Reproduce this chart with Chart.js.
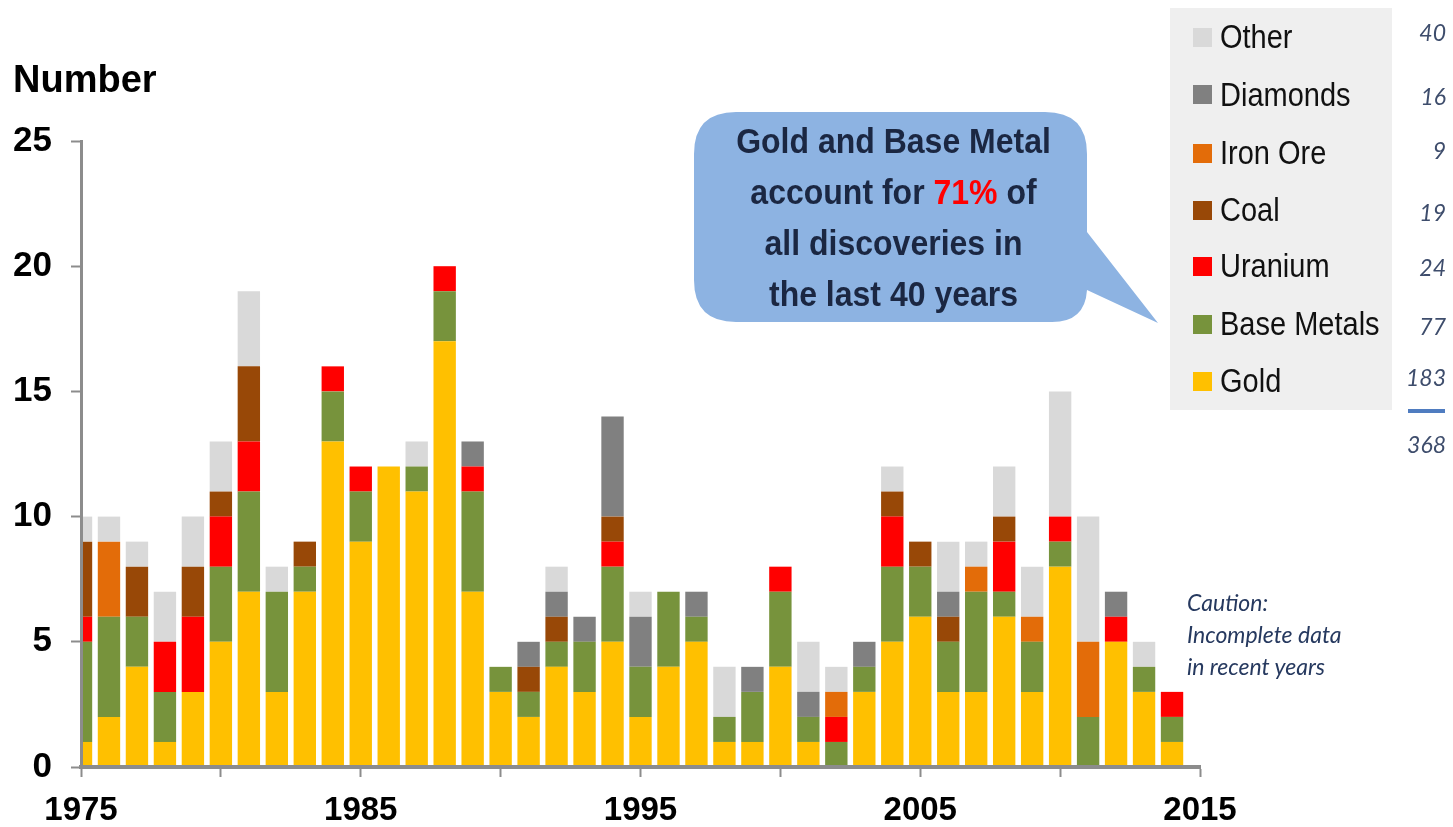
<!DOCTYPE html>
<html>
<head>
<meta charset="utf-8">
<script src="https://cdn.jsdelivr.net/npm/chart.js@4.4.1/dist/chart.umd.min.js"></script>
<style>
  html, body { margin: 0; padding: 0; background: #fff; }
  #wrap { position: relative; width: 1453px; height: 827px; overflow: hidden; font-family: "Liberation Sans", Arial, sans-serif; }
  #c { position: absolute; left: 0; top: 0; }
  .abs { position: absolute; }
  #ytitle { left: 13px; top: 60px; font-size: 38px; line-height: 38px; font-weight: bold; color: #000; white-space: nowrap; }
  #legendBox { left: 1170px; top: 8px; width: 222px; height: 402px; background: #efefef; }
  .lrow { position: absolute; left: 23px; height: 30px; display: flex; align-items: center; white-space: nowrap; }
  .lsq { width: 19px; height: 19px; margin-right: 8px; flex: none; }
  .ltxt { display: inline-block; font-size: 29px; line-height: 30px; color: #111; transform: scaleY(1.12); transform-origin: center; }
  .tot { position: absolute; right: 7px; height: 30px; line-height: 30px; font-family: Lato, "Open Sans", sans-serif; font-style: italic; font-size: 23px; color: #3e4d6c; text-align: right; white-space: nowrap; }
  #totLine { left: 1408px; top: 409px; width: 37px; height: 4px; background: #4f7cc0; }
  #callText { left: 697px; top: 115.6px; width: 393px; text-align: center; font-weight: bold; font-size: 32px; line-height: 45.5px; color: #1b2742; transform: scaleY(1.12); transform-origin: top center; white-space: nowrap; }
  #callText .hl { color: #ff0000; }
  #caution { left: 1187px; top: 585.6px; font-family: Lato, "Open Sans", sans-serif; font-style: italic; font-size: 23px; line-height: 32px; color: #26395f; white-space: nowrap; }
</style>
</head>
<body>
<div id="wrap">
  <canvas id="c" width="1453" height="827"></canvas>
  <div id="ytitle" class="abs">Number</div>
  <svg class="abs" style="left:0;top:0" width="1453" height="827" viewBox="0 0 1453 827">
    <path d="M 736 112 H 1045 Q 1087 112 1087 154 V 232 L 1158 323 L 1087 290 Q 1085 322 1052 322 H 736 Q 694 322 694 280 V 154 Q 694 112 736 112 Z" fill="#8db3e2"/>
  </svg>
  <div id="callText" class="abs">Gold and Base Metal<br>account for <span class="hl">71%</span> of<br>all discoveries in<br>the last 40 years</div>
  <div id="legendBox" class="abs"></div>
  <div id="totals" class="abs" style="left:0;top:0;width:1453px;height:0"></div>
  <div id="totLine" class="abs"></div>
  <div id="caution" class="abs">Caution:<br>Incomplete data<br>in recent years</div>
</div>
<script>
// ---------- DATA ----------
const years = [1975,1976,1977,1978,1979,1980,1981,1982,1983,1984,
               1985,1986,1987,1988,1989,1990,1991,1992,1993,1994,
               1995,1996,1997,1998,1999,2000,2001,2002,2003,2004,
               2005,2006,2007,2008,2009,2010,2011,2012,2013,2014];
const gold       = [1,2,4,1,3,5,7,3,7,13, 9,12,11,17,7,3,2,4,3,5, 2,4,5,1,1,4,1,0,3,5, 6,3,3,6,3,8,0,5,3,1];
const baseMetals = [4,4,2,2,0,3,4,4,1,2, 2,0,1,2,4,1,1,1,2,3, 2,3,1,1,2,3,1,1,1,3, 2,2,4,1,2,1,2,0,1,1];
const uranium    = [1,0,0,2,3,2,2,0,0,1, 1,0,0,1,1,0,0,0,0,1, 0,0,0,0,0,1,0,1,0,2, 0,0,0,2,0,1,0,1,0,1];
const coal       = [3,0,2,0,2,1,3,0,1,0, 0,0,0,0,0,0,1,1,0,1, 0,0,0,0,0,0,0,0,0,1, 1,1,0,1,0,0,0,0,0,0];
const ironOre    = [0,3,0,0,0,0,0,0,0,0, 0,0,0,0,0,0,0,0,0,0, 0,0,0,0,0,0,0,1,0,0, 0,0,1,0,1,0,3,0,0,0];
const diamonds   = [0,0,0,0,0,0,0,0,0,0, 0,0,0,0,1,0,1,1,1,4, 2,0,1,0,1,0,1,0,1,0, 0,1,0,0,0,0,0,1,0,0];
const other      = [1,1,1,2,2,2,3,1,0,0, 0,0,1,0,0,0,0,1,0,0, 1,0,0,2,0,0,2,1,0,1, 0,2,1,2,2,5,5,0,1,0];
const seriesNames = ['Gold','Base Metals','Uranium','Coal','Iron Ore','Diamonds','Other'];
const xTickLabels = ['1975','1985','1995','2005','2015'];
const yTickValues = [0,5,10,15,20,25];

// ---------- STYLE ----------
const seriesColors = ['#FFC000','#77933C','#FF0000','#984807','#E36C09','#808080','#D9D9D9'];
const seriesData = [gold, baseMetals, uranium, coal, ironOre, diamonds, other];
const axisColor = '#8c8c8c';

const datasets = seriesNames.map((name, i) => ({
  label: name,
  data: seriesData[i],
  backgroundColor: seriesColors[i],
  borderWidth: 0,
  barPercentage: 0.8,
  categoryPercentage: 1.0,
  clip: 0
}));

new Chart(document.getElementById('c'), {
  type: 'bar',
  data: { labels: years, datasets },
  options: {
    responsive: false,
    animation: false,
    events: [],
    layout: { padding: { left: 0, right: 253, top: 141, bottom: 0 } },
    plugins: { legend: { display: false }, tooltip: { enabled: false }, title: { display: false } },
    scales: {
      x: {
        type: 'linear',
        stacked: true,
        min: 1975, max: 2015,
        offset: false,
        grid: { display: true, offset: false, drawOnChartArea: false, drawTicks: true, tickLength: 10, tickColor: axisColor, tickWidth: 2 },
        border: { display: true, color: axisColor, width: 4, z: 1 },
        ticks: {
          stepSize: 5, autoSkip: false, maxRotation: 0, minRotation: 0, padding: 14, color: '#000',
          font: { family: 'Liberation Sans', size: 33, weight: 'bold' },
          callback: v => xTickLabels.includes(String(v)) ? String(v) : ''
        },
        afterFit: s => { s.height = 60; }
      },
      y: {
        stacked: true,
        min: yTickValues[0], max: yTickValues[yTickValues.length - 1],
        grid: { display: true, offset: false, drawOnChartArea: false, drawTicks: true, tickLength: 10, tickColor: axisColor, tickWidth: 2 },
        border: { display: true, color: axisColor, width: 3, z: 1 },
        ticks: {
          stepSize: 5, padding: 19, color: '#000',
          font: { family: 'Liberation Sans', size: 35, weight: 'bold' },
          callback: v => yTickValues.includes(v) ? String(v) : ''
        },
        afterFit: s => { s.width = 81; }
      }
    }
  }
});

// ---------- LEGEND & TOTALS (built from the data) ----------
const legendBox = document.getElementById('legendBox');
const rowCenters = [37, 94.5, 153, 210, 266, 324, 381];   // layout, top to bottom
const totalCenters = [33, 97, 151, 213, 268, 327, 378];
const sum = a => a.reduce((p, c) => p + c, 0);
const order = seriesNames.map((_, i) => i).reverse();   // Other at top
const totalsDiv = document.getElementById('totals');
order.forEach((si, r) => {
  const row = document.createElement('div');
  row.className = 'lrow';
  row.style.top = (rowCenters[r] - 8 - 15) + 'px';
  const sq = document.createElement('span');
  sq.className = 'lsq';
  sq.style.background = seriesColors[si];
  const tx = document.createElement('span');
  tx.className = 'ltxt';
  tx.textContent = seriesNames[si];
  row.appendChild(sq); row.appendChild(tx);
  legendBox.appendChild(row);

  const t = document.createElement('div');
  t.className = 'tot';
  t.style.top = (totalCenters[r] - 15.6) + 'px';
  t.textContent = String(sum(seriesData[si]));
  totalsDiv.appendChild(t);
});
const grand = document.createElement('div');
grand.className = 'tot';
grand.style.top = (445 - 15.6) + 'px';
grand.textContent = String(seriesData.reduce((p, a) => p + sum(a), 0));
totalsDiv.appendChild(grand);
</script>
</body>
</html>
